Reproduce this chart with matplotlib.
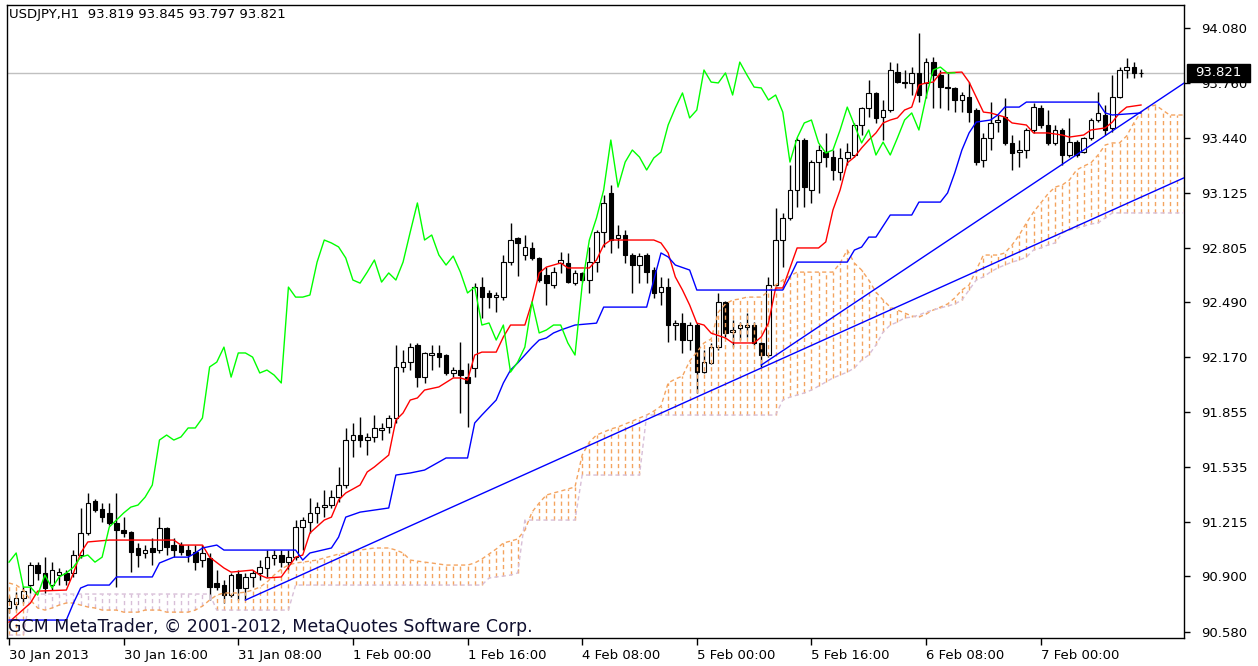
import numpy as np
import matplotlib
matplotlib.use("Agg")
import matplotlib.pyplot as plt
from matplotlib.patches import Rectangle
from matplotlib.transforms import blended_transform_factory

# USDJPY H1 bars, 30 Jan 00:00 .. 7 Feb 14:00
opens = [90.717, 90.740, 90.775, 90.850, 90.966, 90.920, 90.850, 90.908, 90.920, 90.920,
         91.024, 91.152, 91.337, 91.291, 91.268, 91.210, 91.169, 91.157, 91.065, 91.036,
         91.065, 91.053, 91.181, 91.082, 91.082, 91.053, 91.042, 90.995, 91.007, 90.862,
         90.850, 90.792, 90.914, 90.833, 90.897, 90.920, 90.949, 91.007, 91.024, 90.983,
         91.012, 91.187, 91.215, 91.268, 91.302, 91.314, 91.360, 91.430, 91.691, 91.720,
         91.691, 91.709, 91.749, 91.767, 91.819, 92.115, 92.143, 92.242, 92.056, 92.184,
         92.196, 92.184, 92.080, 92.097, 92.056, 92.109, 92.578, 92.544, 92.520, 92.520,
         92.723, 92.863, 92.764, 92.805, 92.747, 92.648, 92.590, 92.718, 92.718, 92.602,
         92.660, 92.619, 92.723, 92.897, 93.124, 92.863, 92.880, 92.764, 92.706, 92.764,
         92.677, 92.549, 92.578, 92.358, 92.370, 92.271, 92.358, 92.085, 92.138, 92.230,
         92.492, 92.317, 92.341, 92.346, 92.358, 92.254, 92.184, 92.590, 92.851, 92.979,
         93.141, 93.431, 93.141, 93.303, 93.361, 93.332, 93.245, 93.327, 93.344, 93.518,
         93.617, 93.704, 93.564, 93.605, 93.825, 93.767, 93.762, 93.820, 93.762, 93.883,
         93.808, 93.738, 93.733, 93.663, 93.680, 93.605, 93.315, 93.443, 93.535, 93.564,
         93.414, 93.361, 93.373, 93.489, 93.617, 93.518, 93.414, 93.489, 93.344, 93.419,
         93.361, 93.443, 93.547, 93.576, 93.501, 93.680, 93.837, 93.854, 93.819]
highs = [90.786, 90.809, 90.844, 90.983, 90.983, 91.012, 90.983, 90.949, 90.937, 91.053,
         91.297, 91.384, 91.349, 91.326, 91.326, 91.384, 91.244, 91.163, 91.094, 91.082,
         91.123, 91.244, 91.187, 91.123, 91.100, 91.082, 91.082, 91.082, 91.036, 90.937,
         90.879, 90.920, 90.937, 90.920, 90.937, 90.995, 91.053, 91.053, 91.053, 91.053,
         91.227, 91.244, 91.355, 91.331, 91.401, 91.401, 91.535, 91.761, 91.790, 91.825,
         91.732, 91.836, 91.790, 91.836, 92.242, 92.213, 92.254, 92.254, 92.201, 92.242,
         92.242, 92.190, 92.115, 92.259, 92.138, 92.602, 92.636, 92.561, 92.549, 92.764,
         92.950, 92.869, 92.880, 92.840, 92.753, 92.694, 92.694, 92.781, 92.776, 92.677,
         92.665, 92.810, 92.909, 93.112, 93.170, 92.938, 92.909, 92.776, 92.776, 92.776,
         92.694, 92.636, 92.631, 92.387, 92.428, 92.375, 92.370, 92.213, 92.254, 92.544,
         92.497, 92.387, 92.375, 92.428, 92.375, 92.260, 92.636, 93.037, 93.008, 93.286,
         93.443, 93.443, 93.315, 93.402, 93.472, 93.373, 93.385, 93.414, 93.530, 93.622,
         93.779, 93.709, 93.663, 93.883, 93.878, 93.837, 93.854, 94.052, 93.907, 93.912,
         93.837, 93.820, 93.738, 93.709, 93.767, 93.617, 93.472, 93.651, 93.576, 93.675,
         93.460, 93.431, 93.501, 93.646, 93.634, 93.605, 93.518, 93.501, 93.559, 93.431,
         93.448, 93.559, 93.709, 93.634, 93.808, 93.854, 93.907, 93.883, 93.845]
lows = [90.688, 90.705, 90.746, 90.804, 90.879, 90.804, 90.821, 90.850, 90.850, 90.897,
        91.007, 91.140, 91.273, 91.215, 91.198, 90.838, 91.128, 90.925, 90.954, 91.007,
        90.966, 91.036, 91.024, 91.012, 91.024, 90.983, 90.937, 90.954, 90.763, 90.821,
        90.746, 90.780, 90.763, 90.763, 90.838, 90.879, 90.897, 90.966, 90.954, 90.937,
        90.995, 91.053, 91.152, 91.210, 91.244, 91.297, 91.331, 91.413, 91.592, 91.651,
        91.604, 91.679, 91.691, 91.732, 91.790, 92.085, 92.097, 91.998, 92.022, 92.097,
        92.115, 92.068, 92.056, 91.848, 91.767, 92.056, 92.399, 92.457, 92.433, 92.503,
        92.706, 92.642, 92.735, 92.735, 92.607, 92.474, 92.573, 92.660, 92.602, 92.590,
        92.607, 92.544, 92.666, 92.811, 92.776, 92.805, 92.718, 92.544, 92.602, 92.602,
        92.515, 92.474, 92.260, 92.271, 92.196, 92.213, 91.964, 92.080, 92.132, 92.213,
        92.288, 92.230, 92.271, 92.288, 92.242, 92.115, 92.172, 92.579, 92.694, 92.967,
        93.042, 93.042, 93.066, 93.124, 93.274, 93.199, 93.199, 93.286, 93.332, 93.460,
        93.564, 93.530, 93.431, 93.593, 93.762, 93.733, 93.692, 93.651, 93.675, 93.617,
        93.617, 93.605, 93.593, 93.593, 93.535, 93.286, 93.274, 93.373, 93.477, 93.402,
        93.257, 93.274, 93.327, 93.472, 93.501, 93.402, 93.402, 93.286, 93.332, 93.332,
        93.356, 93.431, 93.535, 93.460, 93.477, 93.675, 93.791, 93.791, 93.797]
closes = [90.757, 90.775, 90.815, 90.966, 90.920, 90.833, 90.937, 90.925, 90.879, 91.024,
          91.152, 91.326, 91.285, 91.244, 91.210, 91.169, 91.152, 91.042, 91.024, 91.053,
          91.042, 91.181, 91.071, 91.053, 91.042, 91.024, 90.983, 91.036, 90.838, 90.838,
          90.792, 90.908, 90.833, 90.897, 90.920, 90.954, 91.012, 91.024, 90.983, 91.012,
          91.187, 91.227, 91.268, 91.302, 91.314, 91.360, 91.430, 91.691, 91.720, 91.691,
          91.709, 91.761, 91.761, 91.819, 92.115, 92.143, 92.230, 92.056, 92.196, 92.196,
          92.172, 92.080, 92.097, 92.068, 92.022, 92.578, 92.520, 92.520, 92.532, 92.723,
          92.851, 92.834, 92.811, 92.747, 92.619, 92.601, 92.665, 92.735, 92.607, 92.660,
          92.619, 92.723, 92.897, 93.066, 92.851, 92.880, 92.764, 92.706, 92.758, 92.665,
          92.544, 92.578, 92.358, 92.370, 92.271, 92.358, 92.085, 92.143, 92.230, 92.492,
          92.312, 92.329, 92.358, 92.358, 92.254, 92.184, 92.590, 92.851, 92.979, 93.141,
          93.431, 93.158, 93.303, 93.373, 93.332, 93.257, 93.327, 93.361, 93.518, 93.617,
          93.704, 93.559, 93.605, 93.837, 93.767, 93.762, 93.820, 93.692, 93.883, 93.808,
          93.738, 93.733, 93.663, 93.692, 93.593, 93.303, 93.443, 93.530, 93.547, 93.414,
          93.356, 93.373, 93.489, 93.622, 93.518, 93.414, 93.489, 93.344, 93.419, 93.344,
          93.443, 93.547, 93.588, 93.489, 93.680, 93.837, 93.854, 93.819, 93.821]

# Ichimoku: tenkan (red) and kijun (blue) read as (bar, value) points
tenkan_bar = [0, 3, 4, 8, 9, 10, 11, 14, 23, 24, 27, 28, 30, 31, 34, 35, 36, 38, 39, 40,
              41, 42, 44, 45, 46, 47, 49, 50, 51, 53, 54, 55, 56, 57, 58, 60, 62, 63, 64, 65,
              66, 68, 69, 70, 72, 73, 74, 75, 77, 78, 81, 82, 83, 84, 90, 91, 92, 93, 94, 95,
              96, 97, 98, 100, 101, 104, 105, 106, 107, 108, 110, 113, 114, 115, 116, 117, 118, 119, 120, 121,
              122, 123, 124, 125, 126, 127, 128, 129, 130, 133, 134, 135, 136, 137, 139, 140, 142, 143, 145, 147,
              148, 150, 151, 153, 154, 155, 156, 158]
tenkan_val = [90.635, 90.746, 90.815, 90.821, 90.920, 91.036, 91.100, 91.111, 91.111, 91.082,
              91.082, 91.012, 90.949, 90.925, 90.937, 90.908, 90.891, 90.897, 90.954, 91.012,
              91.024, 91.152, 91.227, 91.244, 91.343, 91.384, 91.430, 91.506, 91.535, 91.604,
              91.807, 91.848, 91.923, 91.935, 91.981, 91.999, 92.051, 92.051, 92.039, 92.184,
              92.201, 92.201, 92.289, 92.358, 92.358, 92.491, 92.660, 92.694, 92.718, 92.689,
              92.689, 92.735, 92.822, 92.851, 92.851, 92.834, 92.776, 92.637, 92.561, 92.474,
              92.369, 92.358, 92.311, 92.283, 92.254, 92.254, 92.289, 92.369, 92.573, 92.573,
              92.805, 92.805, 92.840, 93.025, 93.141, 93.298, 93.332, 93.385, 93.431, 93.472,
              93.530, 93.547, 93.559, 93.605, 93.622, 93.750, 93.762, 93.767, 93.820, 93.825,
              93.767, 93.680, 93.593, 93.588, 93.564, 93.530, 93.518, 93.472, 93.472, 93.460,
              93.448, 93.460, 93.489, 93.501, 93.535, 93.588, 93.622, 93.634]
kijun_bar = [0, 8, 9, 10, 11, 14, 15, 20, 21, 23, 25, 26, 27, 29, 30, 40, 41, 42, 45, 46,
             47, 49, 53, 54, 56, 58, 61, 64, 65, 66, 68, 69, 70, 71, 72, 73, 74, 75, 76, 77,
             79, 82, 83, 89, 90, 91, 92, 93, 95, 96, 108, 109, 110, 117, 118, 119, 120, 121, 123, 126,
             127, 130, 131, 132, 133, 134, 135, 137, 138, 139, 141, 142, 152, 153, 154, 158]
kijun_val = [90.647, 90.647, 90.746, 90.833, 90.850, 90.850, 90.897, 90.897, 90.978, 91.012,
             91.012, 91.036, 91.065, 91.082, 91.053, 91.053, 90.995, 91.036, 91.065, 91.128,
             91.244, 91.273, 91.297, 91.488, 91.500, 91.517, 91.587, 91.587, 91.790, 91.836,
             91.923, 92.022, 92.097, 92.138, 92.184, 92.230, 92.271, 92.283, 92.312, 92.329,
             92.358, 92.369, 92.462, 92.462, 92.619, 92.776, 92.753, 92.706, 92.677, 92.561,
             92.561, 92.637, 92.723, 92.723, 92.793, 92.810, 92.868, 92.868, 92.996, 92.996,
             93.071, 93.071, 93.124, 93.240, 93.373, 93.472, 93.535, 93.547, 93.576, 93.622,
             93.622, 93.651, 93.651, 93.588, 93.576, 93.588]
chikou_shift = 26

# cloud spans, one value per bar (runs past the last bar to the right edge)
span_a = [90.862, 90.850, 90.821, 90.763, 90.717, 90.705, 90.717, 90.734, 90.746, 90.746,
          90.734, 90.723, 90.717, 90.705, 90.705, 90.705, 90.693, 90.693, 90.693, 90.705,
          90.705, 90.705, 90.693, 90.693, 90.693, 90.693, 90.705, 90.728, 90.763, 90.792,
          90.804, 90.804, 90.804, 90.809, 90.821, 90.838, 90.867, 90.908, 90.943, 90.966,
          90.978, 90.983, 90.989, 90.995, 91.007, 91.018, 91.030, 91.036, 91.047, 91.053,
          91.059, 91.065, 91.065, 91.065, 91.053, 91.036, 90.995, 90.989, 90.983, 90.978,
          90.972, 90.966, 90.966, 90.966, 90.966, 90.978, 91.001, 91.030, 91.059, 91.094,
          91.105, 91.117, 91.169, 91.273, 91.326, 91.372, 91.384, 91.395, 91.407, 91.419,
          91.604, 91.679, 91.720, 91.737, 91.755, 91.767, 91.784, 91.801, 91.819, 91.836,
          91.859, 91.888, 92.022, 92.045, 92.062, 92.149, 92.201, 92.254, 92.277, 92.433,
          92.480, 92.503, 92.509, 92.520, 92.520, 92.520, 92.555, 92.590, 92.619, 92.642,
          92.665, 92.665, 92.665, 92.665, 92.665, 92.665, 92.717, 92.793, 92.717, 92.677,
          92.619, 92.549, 92.503, 92.462, 92.445, 92.428, 92.410, 92.404, 92.422, 92.445,
          92.462, 92.480, 92.515, 92.561, 92.590, 92.677, 92.764, 92.764, 92.764, 92.776,
          92.822, 92.880, 92.950, 93.013, 93.066, 93.118, 93.158, 93.170, 93.199, 93.257,
          93.280, 93.298, 93.344, 93.402, 93.414, 93.414, 93.455, 93.530, 93.593, 93.622,
          93.634, 93.605, 93.576, 93.576, 93.576]
span_b = ([90.560] * 3 + [90.798] * 26 + [90.705] * 11 + [90.850] * 27
          + [90.891, 90.897, 90.902, 90.908, 90.920] + [91.227] * 8 + [91.488] * 9
          + [91.836] * 19
          + [91.923, 91.940, 91.952, 91.964, 91.981, 92.004, 92.027, 92.051, 92.068, 92.085,
             92.109, 92.155, 92.184, 92.242, 92.317, 92.358, 92.375, 92.399, 92.404, 92.416,
             92.433, 92.445, 92.457, 92.468, 92.480, 92.503, 92.561, 92.619, 92.637, 92.666,
             92.689, 92.706, 92.723, 92.735, 92.752, 92.793, 92.805, 92.822, 92.834, 92.892,
             92.909, 92.921, 92.932, 92.944, 92.950, 92.979]
          + [93.008] * 11)

# user trendlines: (bar, price) anchors, drawn as rays to the right
trend1 = [(33, 90.763), (150, 92.950)]
trend2 = [(105, 92.126), (150, 93.373)]

x_ticks = [0, 16, 32, 48, 64, 80, 96, 112, 128, 144]
x_labels = ['30 Jan 2013', '30 Jan 16:00', '31 Jan 08:00', '1 Feb 00:00', '1 Feb 16:00',
            '4 Feb 08:00', '5 Feb 00:00', '5 Feb 16:00', '6 Feb 08:00', '7 Feb 00:00']
y_ticks = [94.080, 93.760, 93.440, 93.125, 92.805, 92.490, 92.170, 91.855, 91.535,
           91.215, 90.900, 90.580]

W, H = 1258, 666
fig = plt.figure(figsize=(W / 100, H / 100), dpi=100)
fig.patch.set_facecolor('white')
ax = fig.add_axes([7 / W, 1 - 638 / H, (1184 - 7) / W, (638 - 5) / H])
ax.set_facecolor('white')

x_lo, x_hi = -0.28, 164.0
y_lo, y_hi = 90.543, 94.214
ax.set_xlim(x_lo, x_hi)
ax.set_ylim(y_lo, y_hi)
px_price = (y_hi - y_lo) / 633.0   # price per screen pixel

o = np.array(opens)
h = np.array(highs)
l = np.array(lows)
c = np.array(closes)
idx = np.arange(len(c))

# current bid line
ax.axhline(c[-1], color='#C0C0C0', lw=1, zorder=1)

# candles
ax.vlines(idx, l, h, color='black', lw=1, zorder=2)
up = c >= o
body_lo = np.minimum(o, c)
body_h = np.maximum(np.abs(c - o), 0.003)
ax.bar(idx, body_h, bottom=body_lo, width=0.64,
       color=np.where(up, 'white', 'black'), edgecolor='black', linewidth=0.8, zorder=3)

# kumo, drawn as dotted columns like MT4 does
sa = np.array(span_a)
sb = np.array(span_b)
cb = np.arange(len(sa))
kumo_col = np.where(sa >= sb, '#F4A460', '#D8BFD8')
dash = (0, (3.0, 2.3))
ax.vlines(cb, np.minimum(sa, sb), np.maximum(sa, sb), colors=list(kumo_col),
          linestyles=[dash], lw=1.0, zorder=4)
ax.plot(cb, sa, color='#F4A460', ls=dash, lw=1.0, zorder=4)
ax.plot(cb, sb, color='#D8BFD8', ls=dash, lw=1.0, zorder=4)

# tenkan / kijun / chikou
ax.plot(tenkan_bar, tenkan_val, color='#FF0000', lw=1, zorder=5)
ax.plot(kijun_bar, kijun_val, color='#0000FF', lw=1, zorder=5)
ax.plot(idx[:-chikou_shift], c[chikou_shift:], color='#00FF00', lw=1, zorder=5)

# trendlines
for (b0, p0), (b1, p1) in [trend1, trend2]:
    slope = (p1 - p0) / (b1 - b0)
    ax.plot([b0, x_hi], [p0, p0 + slope * (x_hi - b0)], color='#0000FF', lw=1, zorder=6)

# axes cosmetics
for s in ax.spines.values():
    s.set_color('black')
    s.set_linewidth(1)
ax.yaxis.tick_right()
ax.set_yticks(y_ticks)
ax.set_yticklabels(['%.3f' % v for v in y_ticks])
ax.tick_params(axis='y', right=True, left=False, labelright=True, labelleft=False,
               length=4, width=1, pad=8, labelsize=9.5, colors='black')
ax.set_xticks(x_ticks)
ax.set_xticklabels(x_labels)
ax.tick_params(axis='x', length=5, width=1, pad=3, labelsize=9.5, colors='black')
for lbl in ax.get_xticklabels():
    lbl.set_horizontalalignment('left')

ax.text(0.002, 0.985, 'USDJPY,H1  93.819 93.845 93.797 93.821', transform=ax.transAxes,
        ha='left', va='center', fontsize=9.5, color='black', zorder=10)
ax.text(0.001, 0.018, 'GCM MetaTrader, \u00a9 2001-2012, MetaQuotes Software Corp.',
        transform=ax.transAxes, ha='left', va='center', fontsize=12.5, color='#101030', zorder=10)

# bid price tag on the scale
tr = blended_transform_factory(ax.transAxes, ax.transData)
tag_w = 63.0 / 1177
ax.add_patch(Rectangle((1.0025, c[-1] - 9 * px_price), tag_w, 18 * px_price, transform=tr,
                       facecolor='black', edgecolor='black', clip_on=False, zorder=10))
ax.text(1.0025 + tag_w / 2, c[-1], '%.3f' % c[-1], transform=tr, ha='center', va='center',
        fontsize=9.5, color='white', clip_on=False, zorder=11)

fig.savefig('out.png', dpi=100, facecolor='white')
